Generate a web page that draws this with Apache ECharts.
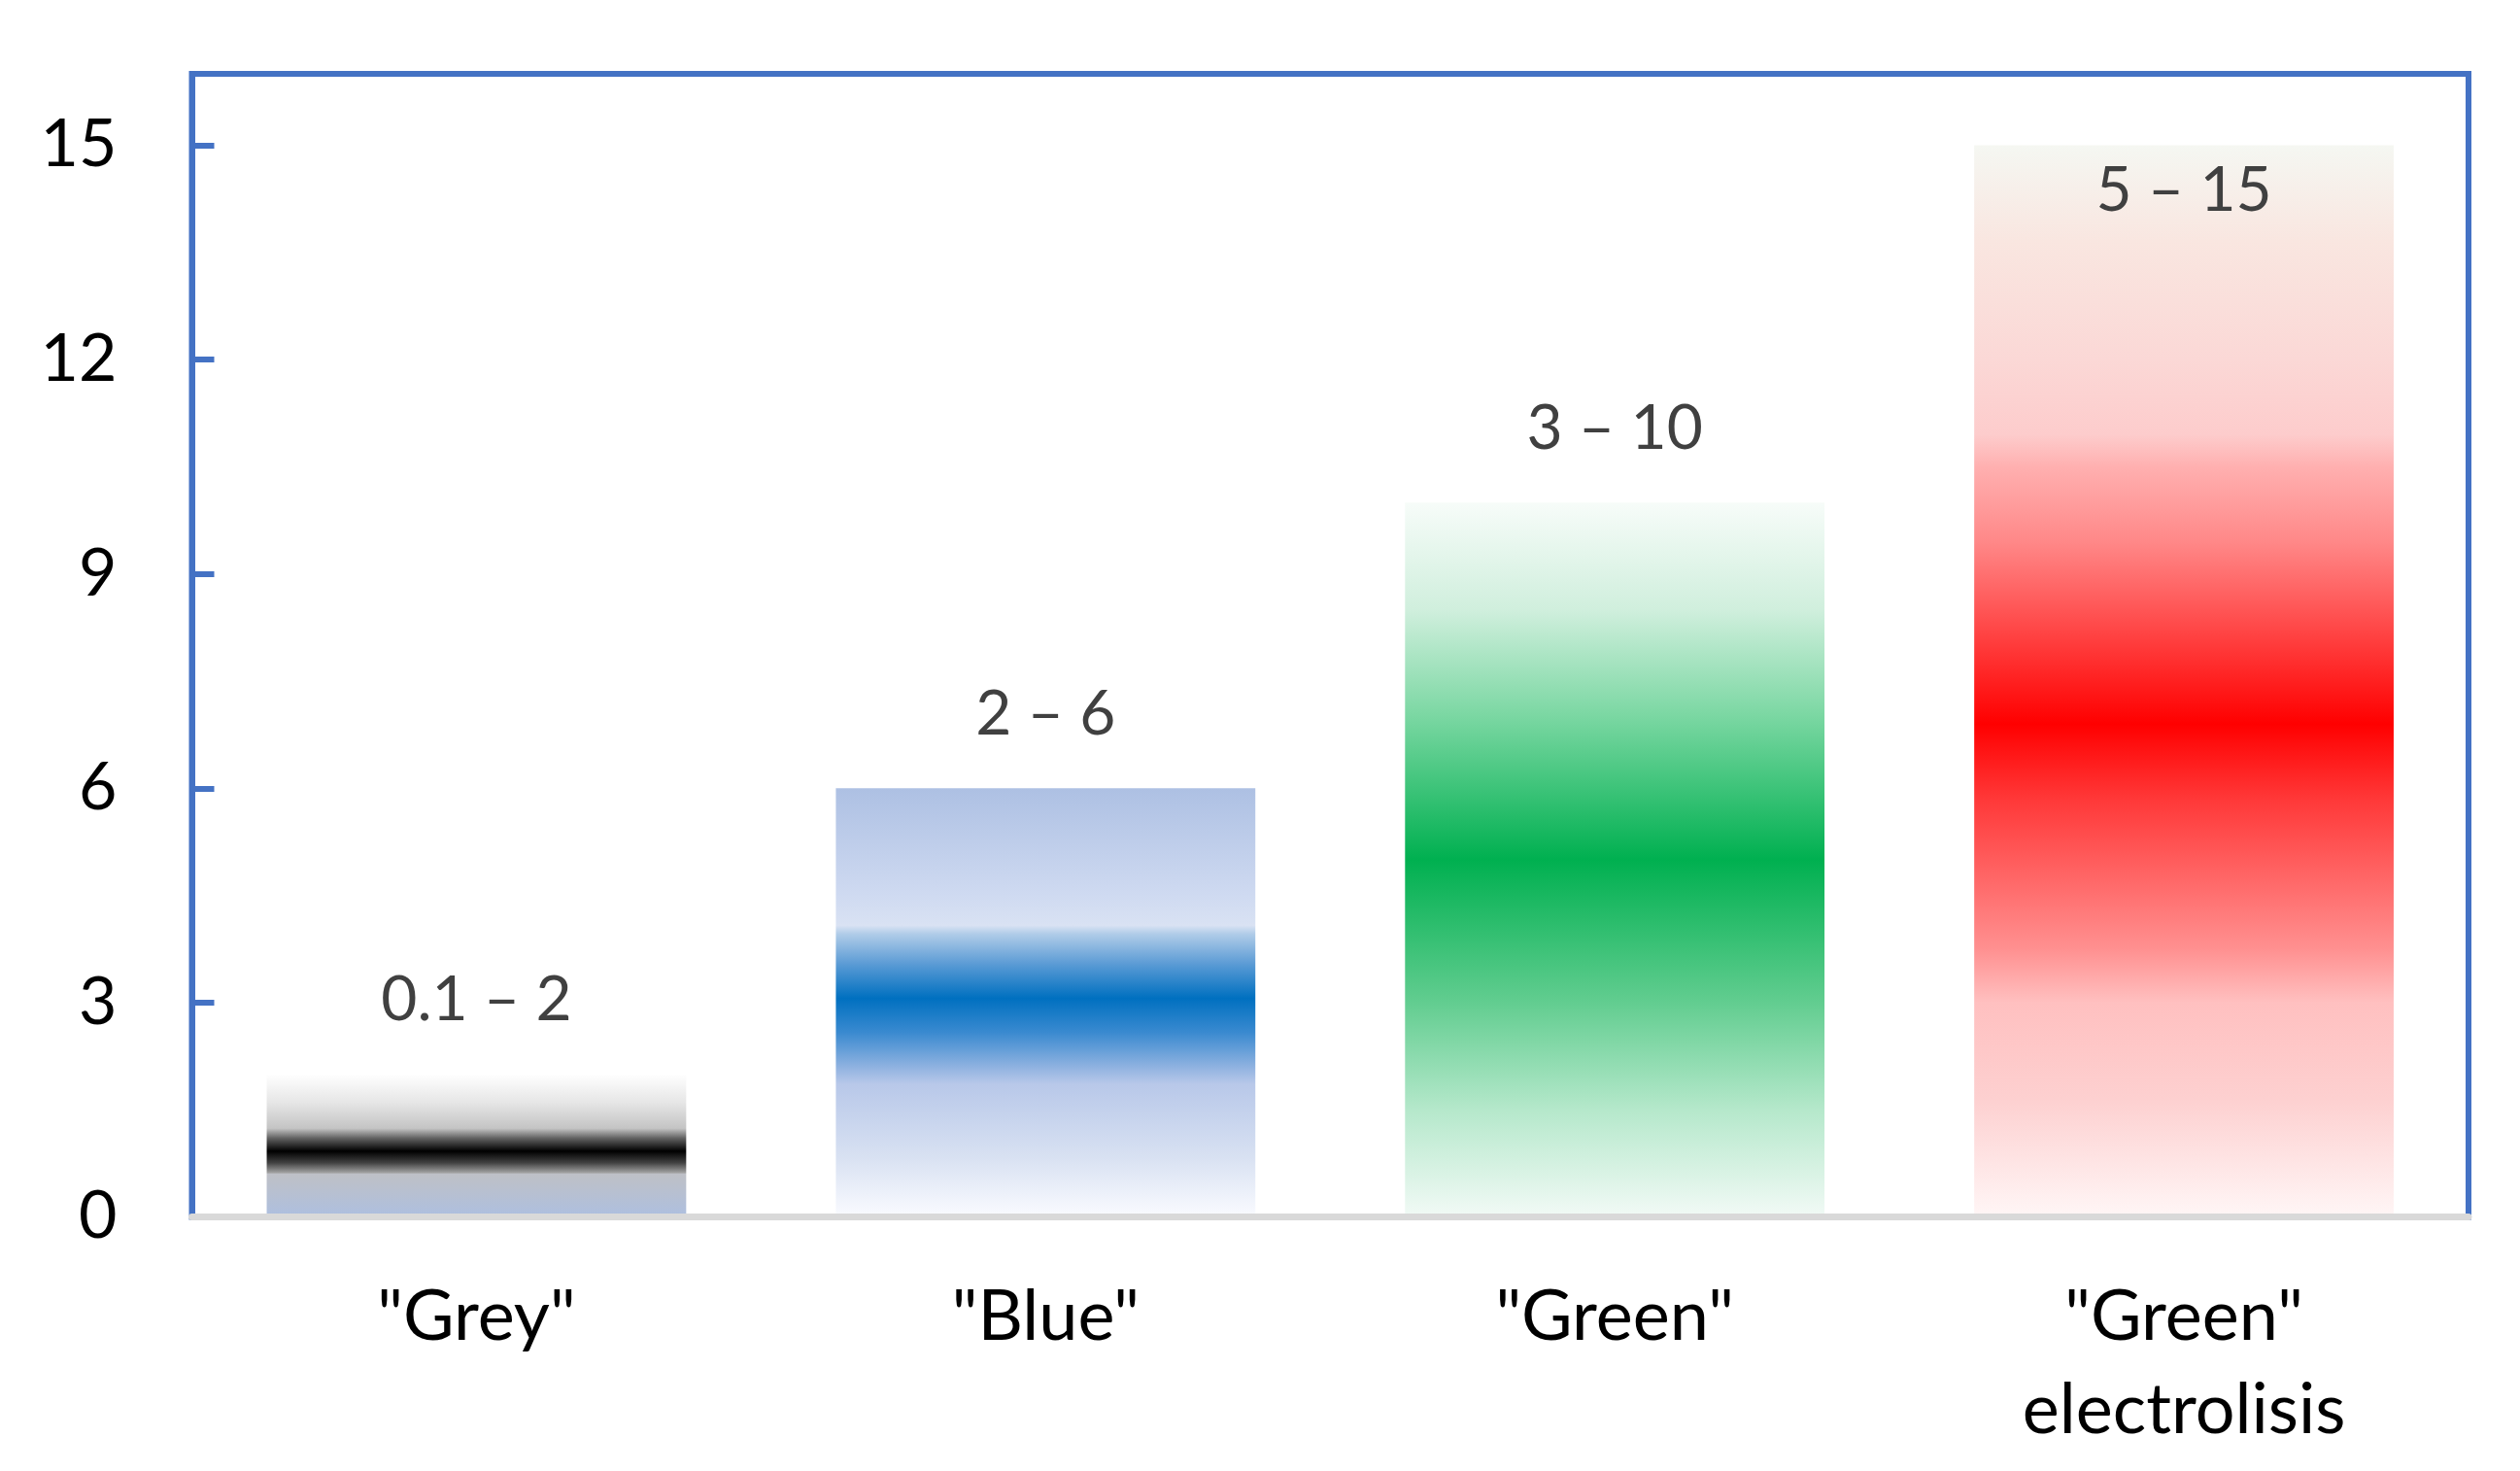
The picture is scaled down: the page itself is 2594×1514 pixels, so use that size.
<!DOCTYPE html>
<html>
<head>
<meta charset="utf-8">
<title>Hydrogen ranges</title>
<script src="https://cdn.jsdelivr.net/npm/echarts@6/dist/echarts.min.js"></script>
<style>
  html, body { margin: 0; padding: 0; background: #ffffff; }
  #chart_wrap { width: 2594px; height: 1514px; }
</style>
</head>
<body>
<div id="chart_wrap"></div>
<script>
// data
var categories = ['"Grey"', '"Blue"', '"Green"', '"Green"\nelectrolisis'];
var rangeLow = [0.1, 2, 3, 5];
var rangeHigh = [2, 6, 10, 15];
var yTicks = [0, 3, 6, 9, 12, 15];

// colour bands of each bar, top -> bottom
var barStops = [
  [[0, '#ffffff'], [0.2, '#e6e6e6'], [0.38, '#c4c4c4'], [0.45, '#606060'], [0.54, '#000000'],
   [0.62, '#404040'], [0.69, '#a0a0a0'], [0.7, '#bec0c6'], [0.82, '#b8c0d0'], [1, '#adbfe0']],
  [[0, '#adc0e3'], [0.25, '#cfdaf1'], [0.32, '#d9e2f3'], [0.34, '#b0cce8'], [0.41, '#5b9bd5'],
   [0.49, '#0070c0'], [0.57, '#3a8ad0'], [0.65, '#8fb2e0'], [0.69, '#b8c8e9'], [0.86, '#d8e1f2'],
   [1, '#fafbff']],
  [[0, '#f7fcf9'], [0.15, '#d0efdd'], [0.3, '#7ad7a2'], [0.5, '#00b050'], [0.7, '#62cd90'],
   [0.85, '#b5e8cb'], [1, '#f2faf6']],
  [[0, '#f5f7f2'], [0.09, '#f9e6e0'], [0.2, '#fbd8d6'], [0.27, '#fdcccc'], [0.3, '#ffb0b0'],
   [0.37, '#ff8888'], [0.44, '#ff5050'], [0.54, '#ff0000'], [0.61, '#ff3838'], [0.68, '#ff6464'],
   [0.75, '#ff9090'], [0.8, '#ffc0c0'], [0.89, '#fdd0d0'], [1, '#fff6f6']]
];
// last label sits inside the bar
var labelPlace = [
  { position: 'top', distance: 44 },
  { position: 'top', distance: 44 },
  { position: 'top', distance: 44 },
  { position: 'insideTop', distance: 15 }
];

var font = 'Lato, "Open Sans", sans-serif';
var blue = '#4472c4';

var chart = echarts.init(document.getElementById('chart_wrap'));

var seriesData = rangeHigh.map(function (v, i) {
  return {
    value: v,
    itemStyle: {
      color: new echarts.graphic.LinearGradient(0, 0, 0, 1, barStops[i].map(function (s) {
        return { offset: s[0], color: s[1] };
      }))
    },
    label: labelPlace[i]
  };
});

chart.setOption({
  animation: false,
  grid: {
    left: 197.5,
    right: 53,
    top: 76,
    bottom: 261.5,
    containLabel: false,
    show: true,
    borderColor: blue,
    borderWidth: 6
  },
  xAxis: {
    type: 'category',
    data: categories,
    z: 10,
    axisLine: { show: true, lineStyle: { color: '#d9d9d9', width: 7 } },
    axisTick: { show: false },
    axisLabel: {
      color: '#000000',
      fontFamily: font,
      fontSize: 72,
      lineHeight: 96,
      margin: 55,
      interval: 0
    },
    splitLine: { show: false }
  },
  yAxis: {
    type: 'value',
    min: 0,
    max: 16,
    interval: 1,
    axisLine: { show: true, lineStyle: { color: blue, width: 6 } },
    axisTick: {
      show: true,
      inside: true,
      length: 23,
      customValues: yTicks,
      lineStyle: { color: blue, width: 6 }
    },
    axisLabel: {
      color: '#000000',
      fontFamily: font,
      fontSize: 68,
      margin: 77,
      customValues: yTicks
    },
    splitLine: { show: false }
  },
  series: [{
    type: 'bar',
    data: seriesData,
    barCategoryGap: '26.3%',
    label: {
      show: true,
      color: '#404040',
      fontFamily: font,
      fontSize: 64,
      lineHeight: 64,
      formatter: function (p) {
        return rangeLow[p.dataIndex] + ' \u2013 ' + rangeHigh[p.dataIndex];
      }
    }
  }]
});
</script>
</body>
</html>
